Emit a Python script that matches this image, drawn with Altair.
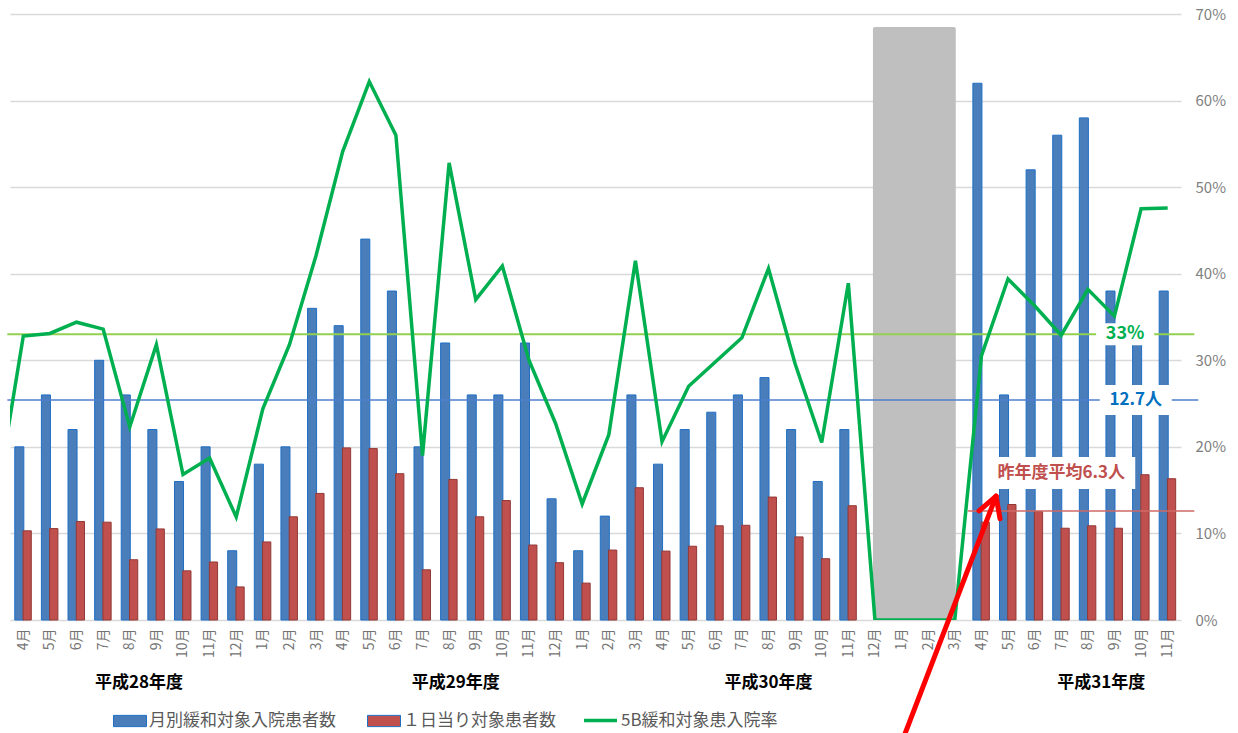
import json

import altair as alt
import pandas as pd

FONT = "Noto Sans CJK JP"
BLUE, BLUE_EDGE = "#4a7ebb", "#1f6fc5"
RED, RED_EDGE = "#c0504d", "#923936"
GREEN = "#00b050"
TARGET_GREEN = "#92d050"
AVG_BLUE = "#4f7fcf"
AVG_RED = "#cf6a67"

# ---- data -------------------------------------------------------------
fy_months = ["4月", "5月", "6月", "7月", "8月", "9月", "10月", "11月", "12月", "1月", "2月", "3月"]
month_labels = fy_months * 3 + fy_months[:8]

fiscal_years = ["平成28年度", "平成29年度", "平成30年度", "平成31年度"]
fiscal_label_pos = [4.35, 16.25, 28.0, 40.5]

S_MONTHLY = "月別緩和対象入院患者数"
S_DAILY = "１日当り対象患者数"
S_RATE = "5B緩和対象患入院率"

# 月別緩和対象入院患者数（人）
monthly_patients = [
    10, 13, 11, 15, 13, 11, 8, 10, 4, 9, 10, 18,
    17, 22, 19, 10, 16, 13, 13, 16, 7, 4, 6, 13,
    9, 11, 12, 13, 14, 11, 8, 11, None, None, None, None,
    31, 13, 26, 28, 29, 19, 16, 19,
]

# １日当り対象患者数（人）
daily_patients = [
    5.15, 5.28, 5.69, 5.65, 3.48, 5.26, 2.84, 3.35, 1.91, 4.51, 5.96, 7.31,
    9.94, 9.90, 8.45, 2.90, 8.12, 5.96, 6.90, 4.33, 3.31, 2.13, 4.04, 7.64,
    3.98, 4.26, 5.44, 5.47, 7.10, 4.80, 3.54, 6.60, None, None, None, None,
    5.65, 6.67, 6.27, 5.30, 5.44, 5.30, 8.39, 8.16,
]

# 5B緩和対象患入院率（前年度3月分を先頭に含む）
prev_rate = 0.14
admission_rate = [
    0.328, 0.331, 0.344, 0.336, 0.223, 0.318, 0.168, 0.187, 0.119, 0.244, 0.318, 0.421,
    0.541, 0.622, 0.560, 0.190, 0.528, 0.370, 0.409, 0.300, 0.227, 0.134, 0.214, 0.415,
    0.206, 0.270, 0.298, 0.326, 0.406, 0.296, 0.205, 0.389, 0.0, 0.0, 0.0, 0.0,
    0.305, 0.394, 0.363, 0.329, 0.382, 0.351, 0.475, 0.476,
]

target_rate = 0.33
avg_this_year = 12.7
avg_last_year = 6.3

# 休床期間（平成30年度12月～3月）
closed_start, closed_end, closed_top = 32, 35, 0.685

# 注目矢印（先端・尾・左右の羽）
arrow_tip = (36.55, 0.143)
arrow_ends = [(32.96, -0.145), (35.91, 0.126), (36.70, 0.117)]

# ---- frames -----------------------------------------------------------
n = len(month_labels)
bars_df = pd.DataFrame({
    "idx": list(range(n)),
    "month": month_labels,
    "patients": monthly_patients,
    "daily": daily_patients,
})
rate_df = pd.DataFrame({"idx": [-1] + list(range(n)), "rate": [prev_rate] + admission_rate})
closed_df = pd.DataFrame({"start": [closed_start], "end": [closed_end], "top": [closed_top]})
target_df = pd.DataFrame({"start": [-0.6], "end": [44.0], "value": [target_rate],
                          "pos": [41.4], "label": [f"{target_rate:.0%}"]})
this_df = pd.DataFrame({"start": [-0.6], "end": [44.15], "value": [avg_this_year],
                        "pos": [41.8], "label": [f"{avg_this_year}人"]})
last_df = pd.DataFrame({"start": [35.5], "end": [44.0], "value": [avg_last_year],
                        "pos": [39.0], "label": [f"昨年度平均{avg_last_year}人"]})
arrow_df = pd.DataFrame({
    "x0": [arrow_tip[0]] * 3,
    "y0": [arrow_tip[1]] * 3,
    "x1": [p[0] for p in arrow_ends],
    "y1": [p[1] for p in arrow_ends],
})
fy_df = pd.DataFrame({"label": fiscal_years, "pos": fiscal_label_pos})

# ---- scales / axes ----------------------------------------------------
x_scale = alt.Scale(domain=[-0.5, n - 0.5], nice=False, zero=False)
x_axis = alt.Axis(
    values=list(range(n)),
    labelExpr=f"{json.dumps(month_labels, ensure_ascii=False)}[datum.value]",
    labelAngle=270, labelFont=FONT, labelFontSize=14, labelColor="#737373",
    labelPadding=8, labelOverlap=False, labelFlush=False,
    ticks=False, domain=False, grid=False, title=None,
)
count_scale = alt.Scale(domain=[0, 35], nice=False, zero=True)
rate_scale = alt.Scale(domain=[0, 0.7], nice=False, zero=True)
rate_axis = alt.Axis(
    orient="right", format=".0%", values=[i / 10 for i in range(8)],
    grid=True, gridColor="#d9d9d9", gridWidth=1.5,
    domain=False, ticks=False, labelPadding=14,
    labelFont=FONT, labelFontSize=15, labelColor="#7f7f7f", title=None,
)

series_scale = alt.Scale(domain=[S_MONTHLY, S_DAILY], range=[BLUE, RED])
bar_legend = alt.Legend(
    title=None, orient="none", legendX=103, legendY=690, direction="horizontal",
    symbolType="M-1,-0.34H1V0.34H-1Z", symbolSize=1089, symbolStrokeWidth=1,
    labelFont=FONT, labelFontSize=17, labelColor="#595959", labelOffset=2,
    labelLimit=0, columnPadding=29, padding=0,
)
line_legend = alt.Legend(
    title=None, orient="none", legendX=572, legendY=688, direction="horizontal",
    symbolType="stroke", symbolSize=1089, symbolStrokeWidth=3.5,
    labelFont=FONT, labelFontSize=17, labelColor="#595959", labelOffset=2,
    labelLimit=0, padding=0,
)


def xq(field):
    return alt.X(f"{field}:Q", scale=x_scale, axis=x_axis)


# ---- layers -----------------------------------------------------------
closed = alt.Chart(closed_df).mark_rect(
    color="#bfbfbf", xOffset=-2, x2Offset=1, cornerRadius=2
).encode(
    x=xq("start"), x2="end:Q",
    y=alt.Y("top:Q", scale=rate_scale, axis=None), y2=alt.datum(0),
)

monthly_bars = alt.Chart(bars_df).transform_filter(
    "isValid(datum.patients)"
).transform_calculate(
    x0="datum.idx - 0.32", x1="datum.idx + 0.02", series=f"'{S_MONTHLY}'"
).mark_rect(stroke=BLUE_EDGE, strokeWidth=1).encode(
    x=xq("x0"), x2="x1:Q",
    y=alt.Y("patients:Q", scale=count_scale, axis=None), y2=alt.datum(0),
    color=alt.Color("series:N", scale=series_scale, legend=bar_legend),
)

daily_bars = alt.Chart(bars_df).transform_filter(
    "isValid(datum.daily)"
).transform_calculate(
    x0="datum.idx - 0.01", x1="datum.idx + 0.30", series=f"'{S_DAILY}'"
).mark_rect(stroke=RED_EDGE, strokeWidth=1).encode(
    x=xq("x0"), x2="x1:Q",
    y=alt.Y("daily:Q", scale=count_scale, axis=None), y2=alt.datum(0),
    color=alt.Color("series:N", scale=series_scale, legend=bar_legend),
)

target_rule = alt.Chart(target_df).mark_rule(color=TARGET_GREEN, strokeWidth=2).encode(
    x=xq("start"), x2="end:Q", y=alt.Y("value:Q", scale=rate_scale, axis=None)
)
this_rule = alt.Chart(this_df).mark_rule(color=AVG_BLUE, strokeWidth=1.5).encode(
    x=xq("start"), x2="end:Q", y=alt.Y("value:Q", scale=count_scale, axis=None)
)
last_rule = alt.Chart(last_df).mark_rule(color=AVG_RED, strokeWidth=1.5).encode(
    x=xq("start"), x2="end:Q", y=alt.Y("value:Q", scale=count_scale, axis=None)
)

rate_line = alt.Chart(rate_df).transform_calculate(
    series=f"'{S_RATE}'"
).mark_line(strokeWidth=3.5, clip=True).encode(
    x=xq("idx"),
    y=alt.Y("rate:Q", scale=rate_scale, axis=rate_axis),
    stroke=alt.Stroke("series:N", scale=alt.Scale(domain=[S_RATE], range=[GREEN]),
                      legend=line_legend),
)


def label_box(df, scale, w, h, dy=0):
    return alt.Chart(df).mark_rect(
        color="white", xOffset=-w / 2, x2Offset=w / 2,
        yOffset=dy - h / 2, y2Offset=dy + h / 2,
    ).encode(
        x=xq("pos"), x2="pos:Q",
        y=alt.Y("value:Q", scale=scale, axis=None), y2="value:Q",
    )


def label_text(df, scale, color, size, dy=0):
    return alt.Chart(df).mark_text(
        font=FONT, fontSize=size, fontWeight="bold", color=color,
        align="center", baseline="middle", dy=dy,
    ).encode(
        x=xq("pos"), y=alt.Y("value:Q", scale=scale, axis=None), text="label:N"
    )


target_box = label_box(target_df, rate_scale, 58, 22)
target_text = label_text(target_df, rate_scale, GREEN, 18)
this_box = label_box(this_df, count_scale, 72, 30)
this_text = label_text(this_df, count_scale, "#0070c0", 17)
last_box = label_box(last_df, count_scale, 148, 32, dy=-38)
last_text = label_text(last_df, count_scale, "#c0504d", 17, dy=-38)

arrow = alt.Chart(arrow_df).mark_rule(
    color="#ff0000", strokeWidth=5, strokeCap="round"
).encode(
    x=xq("x0"), x2="x1:Q",
    y=alt.Y("y0:Q", scale=rate_scale, axis=None), y2="y1:Q",
)

fy_labels = alt.Chart(fy_df).mark_text(
    font=FONT, fontSize=17, fontWeight="bold", color="#000000", baseline="middle"
).encode(x=xq("pos"), y=alt.value(669), text="label:N")

chart = alt.layer(
    closed, monthly_bars, daily_bars,
    this_rule, last_rule, target_rule,
    rate_line,
    target_box, this_box, last_box,
    target_text, this_text, last_text,
    arrow, fy_labels,
).resolve_scale(
    y="independent"
).properties(
    width=1171, height=606,
    padding={"left": 10, "top": 14, "right": 57, "bottom": 113},
    autosize=alt.AutoSizeParams(type="none"),
    background="white",
).configure_view(stroke=None)

chart.save("out.html", embed_options={"renderer": "svg", "actions": False})
